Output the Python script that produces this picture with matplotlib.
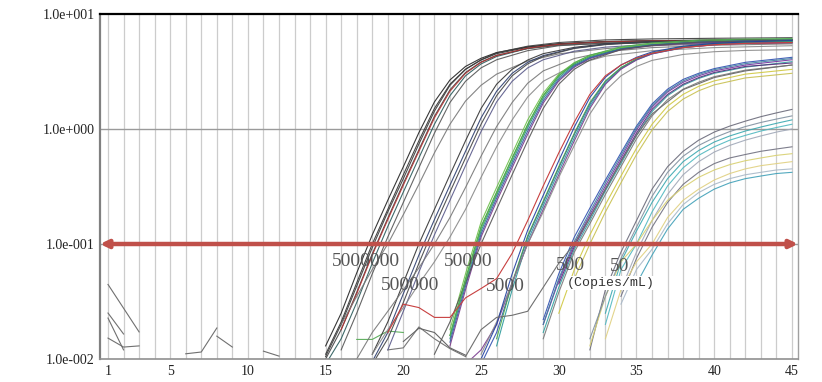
import numpy as np
import matplotlib
matplotlib.use('Agg')
import matplotlib.pyplot as plt

nan = np.nan

# amplification curves, grouped by dilution
cycles_a = [15, 16, 17, 18, 19, 20, 21, 22, 23, 24, 25, 26, 28, 30, 33, 36, 40, 45]
curves_a = [
    [0.013, 0.025, 0.056, 0.12, 0.24, 0.47, 0.93, 1.72, 2.67, 3.5, 4.12, 4.62, 5.18, 5.52, 5.76, 5.86, 5.93, 6.0],
    [0.011, 0.021, 0.046, 0.10, 0.20, 0.40, 0.79, 1.51, 2.45, 3.31, 3.98, 4.52, 5.13, 5.50, 5.75, 5.85, 5.92, 6.0],
    [0.010, 0.018, 0.038, 0.082, 0.168, 0.336, 0.66, 1.29, 2.19, 3.1, 3.83, 4.38, 5.0, 5.35, 5.55, 5.62, 5.66, 5.7],
    [0.009, 0.015, 0.031, 0.068, 0.142, 0.283, 0.56, 1.10, 1.95, 2.9, 3.68, 4.27, 5.02, 5.42, 5.72, 5.83, 5.90, 5.98],
    [0.0105, 0.02, 0.043, 0.093, 0.19, 0.37, 0.74, 1.43, 2.4, 3.3, 4.0, 4.6, 5.25, 5.65, 5.95, 6.07, 6.15, 6.22],
    [nan, 0.018, 0.037, 0.08, 0.163, 0.325, 0.64, 1.25, 2.13, 3.05, 3.8, 4.35, 5.05, 5.45, 5.72, 5.83, 5.9, 5.95],
    [nan, 0.02, 0.035, 0.06, 0.10, 0.18, 0.33, 0.62, 1.1, 1.75, 2.4, 3.0, 3.9, 4.5, 5.0, 5.3, 5.5, 5.6],
    [nan, 0.012, 0.025, 0.055, 0.115, 0.23, 0.46, 0.92, 1.7, 2.6, 3.4, 4.0, 4.8, 5.3, 5.6, 5.75, 5.82, 5.88],
]
colors_a = ['#222222', '#333333', '#444444', '#2a5a5a', '#3a3a3a', '#b03030', '#777777', '#555555']

cycles_b = [17, 18, 19, 20, 21, 22, 23, 24, 25, 26, 27, 28, 29, 31, 33, 36, 40, 45]
curves_b = [
    [nan, 0.011, 0.021, 0.046, 0.10, 0.20, 0.40, 0.79, 1.51, 2.45, 3.31, 3.98, 4.52, 5.13, 5.50, 5.75, 5.88, 5.95],
    [nan, 0.0095, 0.017, 0.037, 0.08, 0.163, 0.325, 0.64, 1.25, 2.13, 3.05, 3.8, 4.35, 5.05, 5.45, 5.72, 5.85, 5.95],
    [nan, 0.009, 0.015, 0.031, 0.068, 0.142, 0.283, 0.56, 1.10, 1.95, 2.9, 3.68, 4.27, 5.02, 5.42, 5.72, 5.85, 5.93],
    [nan, nan, 0.012, 0.026, 0.057, 0.12, 0.24, 0.48, 0.95, 1.72, 2.6, 3.4, 4.0, 4.75, 5.15, 5.45, 5.55, 5.6],
    [0.010, 0.017, 0.026, 0.04, 0.062, 0.1, 0.17, 0.31, 0.58, 1.05, 1.7, 2.5, 3.2, 4.1, 4.7, 5.1, 5.35, 5.5],
    [nan, 0.011, 0.018, 0.028, 0.045, 0.07, 0.115, 0.2, 0.38, 0.7, 1.2, 1.9, 2.6, 3.6, 4.3, 4.8, 5.1, 5.3],
]
colors_b = ['#333333', '#2d3e6e', '#444444', '#5a5a8a', '#777777', '#888888']

cycles_c = [21, 22, 23, 24, 25, 26, 27, 28, 29, 30, 31, 32, 34, 36, 39, 42, 45]
curves_c = [
    [nan, nan, 0.016, 0.05, 0.142, 0.283, 0.56, 1.10, 1.95, 2.9, 3.68, 4.27, 5.02, 5.42, 5.72, 5.85, 5.92],
    [nan, nan, 0.018, 0.055, 0.155, 0.31, 0.61, 1.2, 2.05, 3.0, 3.78, 4.35, 5.1, 5.5, 5.78, 5.9, 5.97],
    [nan, nan, 0.015, 0.046, 0.13, 0.265, 0.52, 1.03, 1.85, 2.8, 3.6, 4.2, 4.98, 5.4, 5.7, 5.84, 5.9],
    [nan, nan, 0.013, 0.04, 0.115, 0.235, 0.46, 0.9, 1.68, 2.62, 3.45, 4.1, 4.9, 5.3, 5.62, 5.75, 5.82],
    [nan, nan, 0.014, 0.043, 0.122, 0.25, 0.49, 0.96, 1.76, 2.7, 3.52, 4.15, 4.95, 5.38, 5.7, 5.85, 5.95],
    [nan, 0.011, 0.021, 0.046, 0.10, 0.2, 0.4, 0.79, 1.51, 2.45, 3.31, 3.98, 4.9, 5.33, 5.69, 5.82, 5.9],
    [nan, nan, 0.016, 0.048, 0.137, 0.275, 0.55, 1.08, 1.93, 2.92, 3.75, 4.38, 5.18, 5.6, 5.92, 6.05, 6.12],
]
colors_c = ['#3a9a3a', '#6cc04a', '#2a8a8a', '#7a3a8a', '#3a5aa0', '#555555', '#50b050']

cycles_d = [24, 25, 26, 27, 28, 29, 30, 31, 32, 33, 34, 35, 36, 38, 40, 42, 45]
curves_d = [
    [nan, 0.009, 0.017, 0.045, 0.115, 0.23, 0.46, 0.9, 1.65, 2.58, 3.4, 4.05, 4.55, 5.15, 5.45, 5.62, 5.78],
    [nan, nan, 0.013, 0.04, 0.107, 0.215, 0.43, 0.84, 1.58, 2.5, 3.35, 4.0, 4.5, 5.1, 5.42, 5.6, 5.75],
    [nan, nan, 0.015, 0.046, 0.118, 0.236, 0.47, 0.92, 1.7, 2.62, 3.42, 4.08, 4.58, 5.2, 5.5, 5.68, 5.82],
    [0.009, 0.012, 0.02, 0.046, 0.10, 0.2, 0.4, 0.79, 1.51, 2.45, 3.31, 3.98, 4.5, 5.1, 5.4, 5.55, 5.65],
    [nan, 0.011, 0.021, 0.046, 0.10, 0.19, 0.38, 0.72, 1.35, 2.15, 2.9, 3.5, 3.95, 4.45, 4.7, 4.82, 4.9],
    [nan, 0.01, 0.02, 0.055, 0.132, 0.265, 0.53, 1.04, 1.88, 2.82, 3.6, 4.2, 4.68, 5.25, 5.55, 5.72, 5.88],
]
colors_d = ['#3050b0', '#2a9a9a', '#4aa84a', '#7a3a90', '#8a8a8a', '#2040a0']

cycles_e = [29, 30, 31, 32, 33, 34, 35, 36, 37, 38, 39, 40, 42, 45]
curves_e = [
    [0.022, 0.055, 0.115, 0.205, 0.36, 0.62, 1.06, 1.65, 2.22, 2.7, 3.05, 3.35, 3.8, 4.2],
    [0.02, 0.048, 0.10, 0.18, 0.32, 0.56, 0.98, 1.55, 2.1, 2.55, 2.9, 3.2, 3.6, 4.0],
    [0.017, 0.042, 0.09, 0.16, 0.29, 0.5, 0.88, 1.42, 1.95, 2.4, 2.75, 3.05, 3.45, 3.85],
    [nan, 0.045, 0.095, 0.17, 0.3, 0.53, 0.92, 1.48, 2.0, 2.45, 2.8, 3.1, 3.5, 3.75],
    [0.015, 0.038, 0.085, 0.15, 0.27, 0.47, 0.82, 1.3, 1.8, 2.22, 2.55, 2.85, 3.25, 3.6],
    [nan, 0.025, 0.06, 0.12, 0.22, 0.39, 0.68, 1.1, 1.58, 2.0, 2.35, 2.62, 3.0, 3.3],
    [nan, nan, 0.05, 0.1, 0.19, 0.34, 0.6, 0.98, 1.42, 1.82, 2.15, 2.42, 2.78, 3.05],
    [0.02, 0.05, 0.105, 0.19, 0.34, 0.59, 1.02, 1.6, 2.15, 2.62, 2.98, 3.28, 3.7, 4.1],
]
colors_e = ['#3050b0', '#7030a0', '#30a0a0', '#5a2a7a', '#777777', '#d0c840', '#c8c050', '#4080a0']

cycles_f = [31, 32, 33, 34, 35, 36, 37, 38, 39, 40, 41, 42, 43, 44, 45]
curves_f = [
    [nan, 0.012, 0.04, 0.085, 0.16, 0.3, 0.47, 0.64, 0.8, 0.94, 1.06, 1.17, 1.28, 1.38, 1.48],
    [nan, nan, 0.025, 0.07, 0.13, 0.23, 0.37, 0.52, 0.65, 0.77, 0.87, 0.96, 1.04, 1.12, 1.2],
    [nan, nan, 0.02, 0.06, 0.1, 0.19, 0.32, 0.46, 0.59, 0.7, 0.8, 0.88, 0.96, 1.03, 1.1],
    [nan, nan, nan, 0.04, 0.085, 0.16, 0.27, 0.4, 0.52, 0.63, 0.72, 0.8, 0.87, 0.94, 1.0],
    [nan, nan, nan, 0.035, 0.075, 0.14, 0.23, 0.33, 0.42, 0.5, 0.56, 0.6, 0.64, 0.67, 0.7],
    [nan, 0.013, 0.035, 0.07, 0.1, 0.16, 0.24, 0.31, 0.38, 0.44, 0.49, 0.53, 0.56, 0.59, 0.61],
    [nan, nan, 0.015, 0.04, 0.07, 0.1, 0.17, 0.24, 0.3, 0.36, 0.41, 0.45, 0.48, 0.5, 0.52],
    [nan, nan, nan, 0.03, 0.06, 0.09, 0.15, 0.22, 0.28, 0.33, 0.37, 0.4, 0.42, 0.44, 0.45],
    [nan, nan, nan, nan, 0.045, 0.08, 0.135, 0.2, 0.25, 0.3, 0.34, 0.37, 0.39, 0.41, 0.42],
    [nan, 0.015, 0.035, 0.075, 0.14, 0.26, 0.42, 0.58, 0.72, 0.84, 0.95, 1.05, 1.14, 1.22, 1.3],
]
colors_f = ['#6a6a7a', '#3aa8b0', '#50b8c0', '#a0a8b8', '#707080', '#d8d070', '#e0d080',
            '#a8b8c8', '#40a0b8', '#8090a0']

# odd curves that wander along the baseline before taking off
red_cycles = [19, 20, 21, 22, 23, 24, 25, 26, 27, 28, 29, 30, 31, 32, 33, 34, 35, 36, 38, 40, 42, 45]
red_values = [0.017, 0.030, 0.028, 0.023, 0.023, 0.034, 0.041, 0.05, 0.083, 0.16, 0.32, 0.62,
              1.15, 2.0, 2.9, 3.6, 4.15, 4.55, 5.1, 5.4, 5.55, 5.65]
late_cycles = [24, 25, 26, 27, 28, 29, 30, 31, 32, 33, 34, 35, 36, 38, 40, 42, 45]
late_values = [0.0105, 0.018, 0.023, 0.024, 0.026, 0.042, 0.068, 0.1, 0.17, 0.3, 0.52, 0.88,
               1.35, 2.2, 2.8, 3.2, 3.6]

# baseline noise fragments
noise_lines = [
    ([1, 3], [0.0445, 0.0172]),
    ([1, 2], [0.0251, 0.0165]),
    ([1, 2], [0.0227, 0.0120]),
    ([1, 2, 3], [0.0152, 0.0127, 0.0130]),
    ([6, 7, 8], [0.0111, 0.0115, 0.0186]),
    ([8, 9], [0.0158, 0.0127]),
    ([11, 12], [0.0117, 0.0106]),
    ([19, 20, 21, 22, 23, 24], [0.012, 0.0125, 0.019, 0.015, 0.0123, 0.0105]),
    ([17, 18, 19, 20], [0.0148, 0.0148, 0.0175, 0.017]),
    ([20, 21, 22, 23, 24], [0.0142, 0.0185, 0.017, 0.0125, 0.0108]),
]
noise_colors = ['#707070'] * 7 + ['#777777', '#60b060', '#666666']

threshold = 0.1
dilution_labels = ['5000000', '500000', '50000', '5000', '500', '50']
label_pos = [(17.6, 0.0711), (20.43, 0.0432), (24.16, 0.0711), (26.54, 0.0424), (30.72, 0.0656), (33.94, 0.0632)]
unit_label = '(Copies/mL)'
unit_pos = (33.36, 0.0458)

x_ticks = [1, 5, 10, 15, 20, 25, 30, 35, 40, 45]
y_ticks = [0.01, 0.1, 1, 10]
y_tick_labels = ['1.0e-002', '1.0e-001', '1.0e+000', '1.0e+001']

fig = plt.figure(figsize=(8.22, 3.82), dpi=100)
ax = fig.add_axes([100 / 822, 23 / 382, 698 / 822, 345 / 382])
ax.set_yscale('log')
ax.set_xlim(0.485, 45.39)
ax.set_ylim(0.01, 10)

# grid: every cycle vertically, decades horizontally
for c in range(1, 46):
    ax.axvline(c, color='#cccccc', lw=0.9, zorder=0)
for v in [1, 0.1]:
    ax.axhline(v, color='#9a9a9a', lw=1.0, zorder=0)

for (cyc, vals), col in zip(noise_lines, noise_colors):
    ax.plot(cyc, vals, color=col, lw=0.8, zorder=2)

groups = [(cycles_a, curves_a, colors_a), (cycles_b, curves_b, colors_b),
          (cycles_c, curves_c, colors_c), (cycles_d, curves_d, colors_d),
          (cycles_e, curves_e, colors_e), (cycles_f, curves_f, colors_f)]
for cycles, curves, colors in groups:
    for vals, col in zip(curves, colors):
        ax.plot(cycles, vals, color=col, lw=0.8, alpha=0.9, zorder=2)

ax.plot(red_cycles, red_values, color='#c84040', lw=0.8, zorder=2)
ax.plot(late_cycles, late_values, color='#707070', lw=0.8, zorder=2)

# threshold line with small arrow heads at both ends
ax.annotate('', xy=(1.0, threshold), xytext=(0.0, threshold),
            xycoords=ax.get_yaxis_transform(), textcoords=ax.get_yaxis_transform(),
            arrowprops=dict(arrowstyle='<|-|>,head_length=0.45,head_width=0.22',
                            color='#c0504a', lw=3.2, shrinkA=0, shrinkB=0),
            zorder=3)

for txt, (x, y) in zip(dilution_labels, label_pos):
    ax.text(x, y, txt, ha='center', va='center', fontsize=14, color='#555555',
            family='Liberation Serif', zorder=4)
ax.text(unit_pos[0], unit_pos[1], unit_label, ha='center', va='center', fontsize=9.5,
        color='#333333', family='Liberation Mono', zorder=4,
        bbox=dict(facecolor='white', edgecolor='none', pad=0.5))

ax.set_xticks(x_ticks)
ax.set_xticklabels([str(t) for t in x_ticks])
ax.set_yticks(y_ticks)
ax.set_yticklabels(y_tick_labels)
ax.minorticks_off()
ax.tick_params(length=0, labelsize=10, pad=4, colors='#222222')
for lab in ax.get_xticklabels() + ax.get_yticklabels():
    lab.set_family('Liberation Serif')

ax.spines['top'].set_color('black')
ax.spines['top'].set_linewidth(1.6)
ax.spines['left'].set_color('#808080')
ax.spines['left'].set_linewidth(1.6)
ax.spines['bottom'].set_color('#909090')
ax.spines['bottom'].set_linewidth(1.2)
ax.spines['right'].set_color('#a0a0a0')
ax.spines['right'].set_linewidth(1.0)

fig.savefig('out.png', dpi=100)
